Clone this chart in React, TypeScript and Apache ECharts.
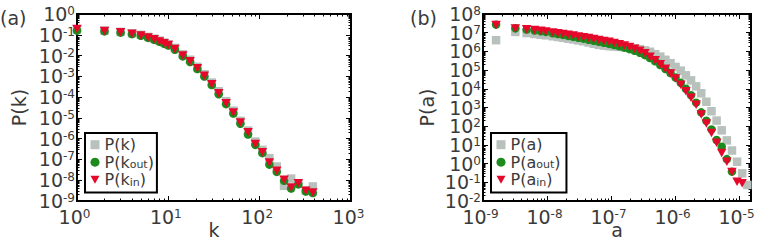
import React, { useEffect, useRef } from 'react';
import * as echarts from 'echarts';

// ---------- data: panel (a) ----------
const kValues = [1, 2, 3, 4, 5, 6, 7, 8, 9, 10, 11.8, 14.4, 17.3, 20.8, 24.8, 29.9, 35.6, 42.9, 51.5, 61.5, 74.6, 89.7, 107, 127.7, 153.8, 185, 221, 265, 320, 382];
const pK = [1.78e-1, 1.58e-1, 1.38e-1, 1.17e-1, 1.0e-1, 7.94e-2, 6.46e-2, 5.25e-2, 4.27e-2, 3.47e-2, 2.34e-2, 1.15e-2, 6.31e-3, 2.88e-3, 1.26e-3, 5.01e-4, 1.91e-4, 6.31e-5, 2.24e-5, 7.24e-6, 2.45e-6, 7.24e-7, 2.88e-7, 1.15e-7, 4.57e-8, 5.37e-9, 1.2e-8, 7.08e-9, 3.16e-9, 5.01e-9];
const pKout = [1.58e-1, 1.45e-1, 1.26e-1, 1.07e-1, 8.91e-2, 7.08e-2, 5.75e-2, 4.57e-2, 3.72e-2, 3.02e-2, 1.91e-2, 9.12e-3, 4.9e-3, 2.24e-3, 9.77e-4, 3.8e-4, 1.38e-4, 4.57e-5, 1.62e-5, 5.25e-6, 1.58e-6, 5.01e-7, 2.0e-7, 5.62e-8, 2.51e-8, 9.33e-9, 3.98e-9, 6.31e-9, 2.88e-9, 2.4e-9];
const pKin = [1.91e-1, 1.51e-1, 1.32e-1, 1.12e-1, 9.33e-2, 7.41e-2, 6.03e-2, 4.79e-2, 3.89e-2, 3.24e-2, 2.09e-2, 1.0e-2, 5.37e-3, 2.45e-3, 1.07e-3, 4.17e-4, 1.55e-4, 5.13e-5, 1.82e-5, 6.03e-6, 2.04e-6, 5.5e-7, 2.24e-7, 7.08e-8, 2.82e-8, 1.05e-8, 4.47e-9, 7.24e-9, 3.09e-9, 2.57e-9];

// ---------- data: panel (b) ----------
const aValues = [1.6e-9, 3.2e-9, 4.8e-9, 6.4e-9, 8.0e-9, 9.6e-9, 1.23e-8, 1.48e-8, 1.78e-8, 2.14e-8, 2.57e-8, 3.09e-8, 3.72e-8, 4.47e-8, 5.37e-8, 6.46e-8, 7.76e-8, 9.33e-8, 1.12e-7, 1.35e-7, 1.62e-7, 1.95e-7, 2.34e-7, 2.82e-7, 3.39e-7, 4.07e-7, 4.9e-7, 5.89e-7, 7.08e-7, 8.51e-7, 1.02e-6, 1.23e-6, 1.48e-6, 1.78e-6, 2.14e-6, 2.57e-6, 3.09e-6, 3.72e-6, 4.47e-6, 5.37e-6, 6.46e-6, 7.76e-6, 9.33e-6, 1.12e-5, 1.35e-5];
const pA = [3.98e6, 1.1e7, 9.55e6, 8.51e6, 7.76e6, 7.24e6, 6.46e6, 5.89e6, 5.37e6, 4.79e6, 4.37e6, 3.89e6, 3.47e6, 3.02e6, 2.57e6, 2.24e6, 2.04e6, 1.91e6, 1.82e6, 1.74e6, 1.66e6, 1.55e6, 1.45e6, 1.32e6, 1.12e6, 9.55e5, 7.08e5, 5.25e5, 3.55e5, 2.34e5, 1.48e5, 9.33e4, 5.25e4, 2.82e4, 1.35e4, 5.75e3, 2.04e3, 6.31e2, 2.0e2, 6.03e1, 1.74e1, 5.01, 1.26, 0.302, 0.0724];
const pAout = [2.69e7, 1.74e7, 1.48e7, 1.32e7, 1.2e7, 1.1e7, 9.33e6, 8.51e6, 7.59e6, 6.76e6, 6.03e6, 5.37e6, 4.79e6, 4.17e6, 3.72e6, 3.24e6, 2.88e6, 2.51e6, 2.19e6, 1.86e6, 1.58e6, 1.32e6, 1.07e6, 8.51e5, 6.31e5, 4.37e5, 2.95e5, 1.86e5, 1.15e5, 6.92e4, 3.98e4, 2.09e4, 1.0e4, 4.57e3, 1.82e3, 5.5e2, 1.95e2, 6.76e1, 1.82e1, 7.94, 1.74, 0.372, null, null, null];
const pAin = [2.57e7, 1.66e7, 1.51e7, 1.38e7, 1.26e7, 1.17e7, 1.02e7, 9.33e6, 8.51e6, 7.76e6, 7.08e6, 6.31e6, 5.75e6, 5.13e6, 4.57e6, 4.07e6, 3.63e6, 3.24e6, 2.82e6, 2.4e6, 2.04e6, 1.7e6, 1.38e6, 1.07e6, 7.94e5, 5.25e5, 3.39e5, 2.04e5, 1.17e5, 6.61e4, 3.55e4, 1.66e4, 7.41e3, 3.31e3, 1.41e3, 4.17e2, 1.38e2, 4.27e1, 1.32e1, 3.72, 1.26, 0.355, 0.107, 0.0891, null];

// axis ranges
const rangeA = { xMin: 1, xMax: 1e3, yMin: 1e-9, yMax: 1 };
const rangeB = { xMin: 1e-9, xMax: 1.54e-5, yMin: 1e-2, yMax: 1e8 };

const FONT = 'DejaVu Sans';
const TXT = '#3a3a3a';
const GRAY = '#b8c1bb';
const GREEN = '#1d8a1d';
const RED = '#e5082b';
const TRI = 'path://M0,0L10,0L5,9Z';

const MANTISSAS = [2, 3, 4, 5, 6, 7, 8, 9];

function minorExps(lo: number, hi: number) {
  const out: number[] = [];
  for (let d = Math.floor(lo); d < hi; d++) {
    for (const m of MANTISSAS) {
      const v = d + Math.log10(m);
      if (v > lo + 1e-6 && v < hi - 1e-6) out.push(v);
    }
  }
  return out;
}
function majorExps(lo: number, hi: number) {
  const out: number[] = [];
  for (let d = Math.ceil(lo - 1e-9); d <= hi + 1e-9; d++) out.push(d);
  return out;
}

// label for a power-of-ten exponent
function expLabel(v: number) {
  const r = Math.round(v);
  if (Math.abs(v - r) > 1e-3) return '';
  return `{b|10}{s|${r < 0 ? '-' + -r : r}}`;
}

const tickRich = {
  b: { fontSize: 19, lineHeight: 18, fontFamily: FONT, color: TXT },
  s: { fontSize: 12, lineHeight: 1, verticalAlign: 'top', fontFamily: FONT, color: TXT },
};

const nameStyle = { fontSize: 19, fontFamily: FONT, color: TXT };

function legendFmt(name: string) {
  const m = name.match(/^P\((\w)(?:_(\w+))?\)$/);
  if (m && m[2]) return `{n|P(${m[1]}}{sub|${m[2]}}{n|)}`;
  return `{n|${name}}`;
}

const TOP = 14;
const HEIGHT = 187;
const X_PER_PANEL = 5;
const Y_PER_PANEL = 6;

// x: 0 log data axis (name), 1 major bottom + labels, 2 major top, 3 minor bottom, 4 minor top
// y: 0 log data axis (name), 1 major left + even labels, 2 odd labels, 3 major right, 4 minor left, 5 minor right
function panelAxes(gridIndex: number, r: { xMin: number; xMax: number; yMin: number; yMax: number }, xName: string, yName: string, yNameGap: number) {
  const lx0 = Math.log10(r.xMin), lx1 = Math.log10(r.xMax);
  const ly0 = Math.log10(r.yMin), ly1 = Math.log10(r.yMax);
  const tickLine = { color: '#000', width: 1 };
  const noLine = { show: false, onZero: false };
  const labelBase = { show: true, formatter: expLabel, rich: tickRich, hideOverlap: false, showMinLabel: true, showMaxLabel: true };
  const mk = (lo: number, hi: number, pos: string, len: number, tickVals: number[], label: any) => ({
    type: 'value', gridIndex, position: pos, min: lo, max: hi,
    axisLine: noLine, splitLine: { show: false },
    axisTick: len > 0 ? { inside: true, length: len, customValues: tickVals, lineStyle: tickLine } : { show: false },
    axisLabel: label || { show: false },
  });
  const xMaj = majorExps(lx0, lx1);
  const yMaj = majorExps(ly0, ly1);
  const yEven = yMaj.filter((v) => Math.abs(v % 2) === 0);
  const yOdd = yMaj.filter((v) => Math.abs(v % 2) === 1);
  const xAxes = [
    {
      type: 'log', gridIndex, position: 'bottom', logBase: 10, min: r.xMin, max: r.xMax,
      axisLine: noLine, axisTick: { show: false }, axisLabel: { show: false }, splitLine: { show: false },
      name: xName, nameLocation: 'middle', nameGap: 19, nameTextStyle: nameStyle,
    },
    mk(lx0, lx1, 'bottom', 5, xMaj, { ...labelBase, customValues: xMaj, margin: 7, padding: [0, 5, 0, 0] }),
    mk(lx0, lx1, 'top', 5, xMaj, null),
    mk(lx0, lx1, 'bottom', 2.5, minorExps(lx0, lx1), null),
    mk(lx0, lx1, 'top', 2.5, minorExps(lx0, lx1), null),
  ];
  const yAxes = [
    {
      type: 'log', gridIndex, position: 'left', logBase: 10, min: r.yMin, max: r.yMax,
      axisLine: noLine, axisTick: { show: false }, axisLabel: { show: false }, splitLine: { show: false },
      name: yName, nameLocation: 'middle', nameGap: yNameGap, nameRotate: 90, nameTextStyle: nameStyle,
    },
    mk(ly0, ly1, 'left', 5, yMaj, { ...labelBase, customValues: yEven, margin: 2 }),
    mk(ly0, ly1, 'left', 0, [], { ...labelBase, customValues: yOdd, margin: 2 }),
    mk(ly0, ly1, 'right', 5, yMaj, null),
    mk(ly0, ly1, 'left', 2.5, minorExps(ly0, ly1), null),
    mk(ly0, ly1, 'right', 2.5, minorExps(ly0, ly1), null),
  ];
  return { xAxes, yAxes };
}

function pairs(xs: number[], ys: (number | null)[]) {
  const out: number[][] = [];
  xs.forEach((x, i) => {
    const y = ys[i];
    if (y != null) out.push([x, y]);
  });
  return out;
}

function scatter(name: string, panel: number, data: number[][], kind: 'sq' | 'ci' | 'tr') {
  const base: any = {
    type: 'scatter', name, xAxisIndex: panel * X_PER_PANEL, yAxisIndex: panel * Y_PER_PANEL, data,
    itemStyle: { color: kind === 'sq' ? GRAY : kind === 'ci' ? GREEN : RED, opacity: 1 },
    emphasis: { disabled: true },
  };
  if (kind === 'sq') { base.symbol = 'rect'; base.symbolSize = 8.5; base.z = 2; }
  if (kind === 'ci') { base.symbol = 'circle'; base.symbolSize = 8.5; base.z = 3; }
  if (kind === 'tr') { base.symbol = 'triangle'; base.symbolSize = [9.5, 8.5]; base.symbolRotate = 180; base.z = 4; }
  return base;
}

function legendBox(names: string[], left: number, padRight: number) {
  return {
    data: [
      { name: names[0], icon: 'rect' },
      { name: names[1], icon: 'circle' },
      { name: names[2], icon: TRI },
    ],
    orient: 'vertical', left, top: 133, itemWidth: 9, itemHeight: 9, itemGap: 1.5,
    padding: [3.7, padRight, 4.7, 5.5],
    borderColor: '#000', borderWidth: 2, backgroundColor: '#fff', borderRadius: 0,
    selectedMode: false,
    formatter: legendFmt,
    textStyle: {
      fontFamily: FONT, fontSize: 16, color: TXT,
      rich: {
        n: { fontFamily: FONT, fontSize: 16, lineHeight: 16, color: TXT },
        sub: { fontFamily: FONT, fontSize: 11, lineHeight: 6, verticalAlign: 'bottom', color: TXT },
      },
    },
  };
}

export default function App() {
  const ref = useRef<HTMLDivElement>(null);
  useEffect(() => {
    if (!ref.current) return;
    const chart = echarts.init(ref.current, undefined, { renderer: 'svg' });
    const pa = panelAxes(0, rangeA, 'k', 'P(k)', 49);
    const pb = panelAxes(1, rangeB, 'a', 'P(a)', 47);
    chart.setOption({
      animation: false,
      backgroundColor: '#fff',
      textStyle: { fontFamily: FONT },
      grid: [
        { left: 77, top: TOP, width: 274, height: HEIGHT, show: true, borderColor: '#000', borderWidth: 2, backgroundColor: 'transparent', containLabel: false },
        { left: 483, top: TOP, width: 268, height: HEIGHT, show: true, borderColor: '#000', borderWidth: 2, backgroundColor: 'transparent', containLabel: false },
      ],
      xAxis: [...pa.xAxes, ...pb.xAxes],
      yAxis: [...pa.yAxes, ...pb.yAxes],
      legend: [
        legendBox(['P(k)', 'P(k_out)', 'P(k_in)'], 85, 3),
        legendBox(['P(a)', 'P(a_out)', 'P(a_in)'], 491, 6),
      ],
      graphic: [
        { type: 'text', left: 0, top: 8, style: { text: '(a)', fontSize: 19, fontFamily: FONT, fill: TXT } },
        { type: 'text', left: 410, top: 8, style: { text: '(b)', fontSize: 19, fontFamily: FONT, fill: TXT } },
      ],
      series: [
        scatter('P(k)', 0, pairs(kValues, pK), 'sq'),
        scatter('P(k_out)', 0, pairs(kValues, pKout), 'ci'),
        scatter('P(k_in)', 0, pairs(kValues, pKin), 'tr'),
        scatter('P(a)', 1, pairs(aValues, pA), 'sq'),
        scatter('P(a_out)', 1, pairs(aValues, pAout), 'ci'),
        scatter('P(a_in)', 1, pairs(aValues, pAin), 'tr'),
      ],
    });
    return () => chart.dispose();
  }, []);
  return <div ref={ref} style={{ position: 'fixed', left: 0, top: 0, width: 763, height: 245, background: '#fff' }} />;
}
